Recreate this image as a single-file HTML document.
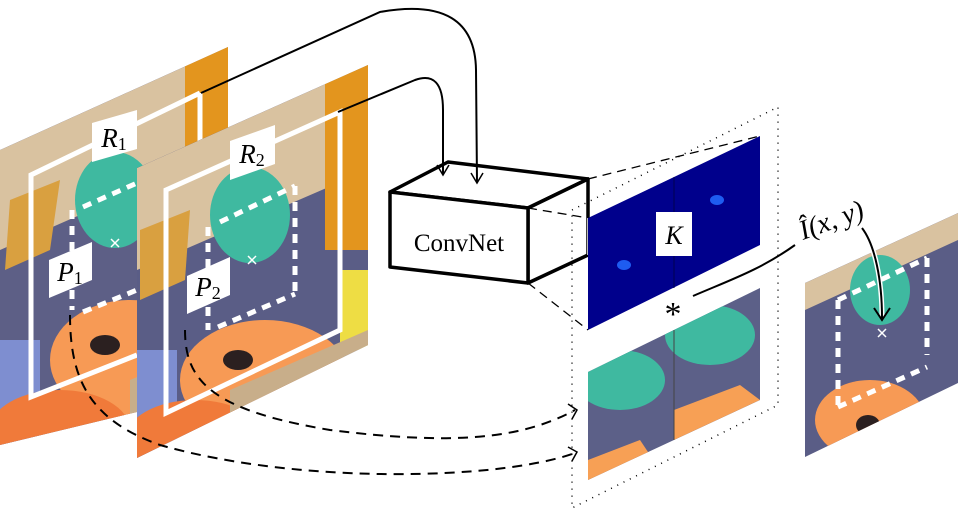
<!DOCTYPE html>
<html><head><meta charset="utf-8"><style>
html,body{margin:0;padding:0;background:#fff;}
svg{display:block}
text{font-family:"Liberation Serif",serif;}
</style></head><body>
<svg width="966" height="523" viewBox="0 0 966 523" xmlns="http://www.w3.org/2000/svg">
<defs>
<clipPath id="c1"><polygon points="0,150 228,47 228,390 0,445"/></clipPath>
<clipPath id="c2"><polygon points="137,168 368,65 368,345 137,458"/></clipPath>
<clipPath id="c3"><polygon points="805,283 958,213 958,383 805,457"/></clipPath>
<clipPath id="c4"><polygon points="588,372 760,288 760,400 588,480"/></clipPath>
</defs>

<!-- image 1 -->
<g clip-path="url(#c1)">
<rect x="0" y="40" width="240" height="420" fill="#5d5f86"/>
<polygon points="0,150 228,47 228,150 0,250" fill="#d9c2a0"/>
<rect x="185" y="40" width="45" height="160" fill="#e3951e"/>
<polygon points="10,200 60,180 50,250 5,270" fill="#d9a040"/>
<ellipse cx="115" cy="200" rx="40" ry="48" fill="#3fb9a0"/>
<ellipse cx="130" cy="360" rx="80" ry="60" fill="#f79a55"/>
<rect x="0" y="340" width="40" height="110" fill="#7e8ed0"/>
<ellipse cx="60" cy="430" rx="70" ry="40" fill="#f07a3a"/>
<polygon points="130,380 228,340 228,400 130,420" fill="#c8ae8a"/>
</g>
<!-- R1 -->
<polyline points="200,93 31,175 31,397 137,355" fill="none" stroke="#fff" stroke-width="5"/>
<line x1="200" y1="93" x2="200" y2="200" stroke="#fff" stroke-width="5"/>

<!-- image 2 -->
<g clip-path="url(#c2)">
<rect x="130" y="60" width="250" height="400" fill="#5a5d86"/>
<polygon points="137,168 368,65 368,170 137,270" fill="#d9c2a0"/>
<rect x="325" y="60" width="45" height="190" fill="#e3951e"/>
<rect x="340" y="270" width="30" height="80" fill="#eedd44"/>
<polygon points="140,230 190,210 185,280 140,300" fill="#d9a040"/>
<ellipse cx="250" cy="215" rx="40" ry="48" fill="#3fb9a0"/>
<ellipse cx="265" cy="380" rx="85" ry="60" fill="#f79a55"/>
<rect x="137" y="350" width="40" height="110" fill="#7e8ed0"/>
<ellipse cx="195" cy="440" rx="70" ry="40" fill="#f07a3a"/>
<polygon points="230,390 368,330 368,350 230,440" fill="#c8ae8a"/>
<ellipse cx="238" cy="360" rx="15" ry="10" fill="#2b2020"/>
</g>
<ellipse cx="105" cy="345" rx="15" ry="10" fill="#2b2020"/>
<!-- R2 -->
<polygon points="166,190 340,112 340,330 166,413" fill="none" stroke="#fff" stroke-width="5"/>

<!-- P boxes -->
<g stroke="#fff" stroke-width="5" stroke-dasharray="9,7" fill="none">
<line x1="83" y1="207" x2="137" y2="183"/>
<line x1="72" y1="210" x2="72" y2="310"/>
<line x1="83" y1="312" x2="137" y2="290"/>
<line x1="220" y1="222" x2="295" y2="186"/>
<line x1="295" y1="186" x2="295" y2="295"/>
<line x1="218" y1="327" x2="295" y2="294"/>
<line x1="208" y1="227" x2="208" y2="330"/>
</g>
<g stroke="#fff" stroke-width="1.5">
<line x1="111" y1="239" x2="119" y2="247"/><line x1="119" y1="239" x2="111" y2="247"/>
<line x1="248" y1="256" x2="256" y2="264"/><line x1="256" y1="256" x2="248" y2="264"/>
</g>
<!-- labels -->
<polygon points="92,123 137,110 137,149 92,162" fill="#fff"/>
<text x="114" y="147" font-size="27" font-style="italic" text-anchor="middle">R<tspan font-size="18" font-style="normal" dy="3">1</tspan></text>
<polygon points="230,141 275,125 275,164 230,180" fill="#fff"/>
<text x="252" y="163" font-size="27" font-style="italic" text-anchor="middle">R<tspan font-size="18" font-style="normal" dy="3">2</tspan></text>
<polygon points="49,260 92,242 92,280 49,298" fill="#fff"/>
<text x="70" y="281" font-size="27" font-style="italic" text-anchor="middle">P<tspan font-size="18" font-style="normal" dy="3">1</tspan></text>
<polygon points="187,276 230,257 230,295 187,314" fill="#fff"/>
<text x="208" y="296" font-size="27" font-style="italic" text-anchor="middle">P<tspan font-size="18" font-style="normal" dy="3">2</tspan></text>

<!-- dashed arrows -->
<g fill="none" stroke="#000" stroke-width="2" stroke-dasharray="10,7">
<path d="M70,315 C70,380 90,420 160,445 C300,485 500,480 575,453"/>
<path d="M185,330 C185,380 210,410 330,430 C450,445 520,440 575,410"/>
</g>
<g fill="none" stroke="#000" stroke-width="1.5">
<path d="M568,447 L577,452 L572,461"/>
<path d="M568,404 L577,410 L572,419"/>
</g>

<!-- ConvNet box -->
<g fill="#fff" stroke="#000" stroke-width="3.5" stroke-linejoin="round">
<polygon points="390,192 448,162 588,179 528,208"/>
<polygon points="528,208 588,179 588,255 528,283" />
<polygon points="390,192 528,208 528,283 390,267"/>
</g>
<text x="459" y="251" font-size="25" text-anchor="middle">ConvNet</text>

<!-- solid arrows -->
<g fill="none" stroke="#000" stroke-width="2">
<path d="M201,93 L380,12 Q475,-5 476,70 L477,182"/>
<path d="M338,112 L415,80 Q443,70 443,110 L443,174"/>
</g>
<g fill="none" stroke="#000" stroke-width="1.5">
<path d="M471,173 L477,183 L483,173"/>
<path d="M437,165 L443,175 L449,165"/>
</g>

<!-- dotted plane -->
<polygon points="572,210 778,107 778,405 572,508" fill="none" stroke="#000" stroke-width="1.5" stroke-dasharray="1,6"/>

<!-- projection dashed lines -->
<g stroke="#000" stroke-width="1.3" stroke-dasharray="9,6" fill="none">
<line x1="588" y1="179" x2="760" y2="136"/>
<line x1="528" y1="208" x2="588" y2="218"/>
<line x1="528" y1="283" x2="588" y2="330"/>
</g>
<line x1="588" y1="255" x2="588" y2="218" stroke="#bbb" stroke-width="2"/>

<!-- K map -->
<polygon points="588,218 760,136 760,245 588,330" fill="#00008c"/>
<line x1="674" y1="177" x2="674" y2="288" stroke="#000050" stroke-width="1"/>
<ellipse cx="624" cy="265" rx="7" ry="5" fill="#1e5cf0"/>
<ellipse cx="717" cy="200" rx="7" ry="5" fill="#1e5cf0"/>
<rect x="656" y="212" width="36" height="44" fill="#fff"/>
<text x="674" y="244" font-size="26" font-style="italic" text-anchor="middle">K</text>

<!-- patches -->
<g clip-path="url(#c4)">
<rect x="580" y="280" width="190" height="210" fill="#5c6088"/>
<ellipse cx="620" cy="380" rx="45" ry="30" fill="#3fb9a0"/>
<ellipse cx="710" cy="335" rx="45" ry="30" fill="#3fb9a0"/>
<polygon points="588,460 640,440 660,470 588,490" fill="#f7a055"/>
<polygon points="674,410 740,385 760,400 674,440" fill="#f7a055"/>
</g>
<line x1="674" y1="330" x2="674" y2="440" stroke="#444" stroke-width="1"/>
<text x="673" y="325" font-size="34" text-anchor="middle">*</text>

<!-- output line -->
<path d="M693,296 C730,280 760,270 795,245" fill="none" stroke="#000" stroke-width="2"/>
<text x="0" y="0" font-size="28" font-style="italic" transform="translate(803,240) rotate(-20)">Î(x, y)</text>

<!-- right image -->
<g clip-path="url(#c3)">
<rect x="800" y="200" width="170" height="270" fill="#5a5d86"/>
<polygon points="805,283 958,213 958,240 805,310" fill="#d9c2a0"/>
<ellipse cx="880" cy="290" rx="30" ry="35" fill="#3fb9a0"/>
<ellipse cx="870" cy="420" rx="55" ry="40" fill="#f79a55"/>
<ellipse cx="868" cy="425" rx="12" ry="10" fill="#2b2020"/>
</g>
<g stroke="#fff" stroke-width="5" stroke-dasharray="9,7" fill="none">
<line x1="838" y1="300" x2="927" y2="258"/>
<line x1="838" y1="300" x2="838" y2="407"/>
<line x1="927" y1="258" x2="927" y2="355"/>
<line x1="838" y1="407" x2="927" y2="367"/>
</g>
<g stroke="#fff" stroke-width="1.5">
<line x1="878" y1="329" x2="886" y2="337"/><line x1="886" y1="329" x2="878" y2="337"/>
</g>
<path d="M862,228 C875,245 882,280 882,318" fill="none" stroke="#fff" stroke-width="5"/>
<path d="M862,228 C875,245 882,280 882,318" fill="none" stroke="#000" stroke-width="2"/>
<path d="M874,308 L882,320 L890,308" fill="none" stroke="#000" stroke-width="2"/>
</svg>
</body></html>
